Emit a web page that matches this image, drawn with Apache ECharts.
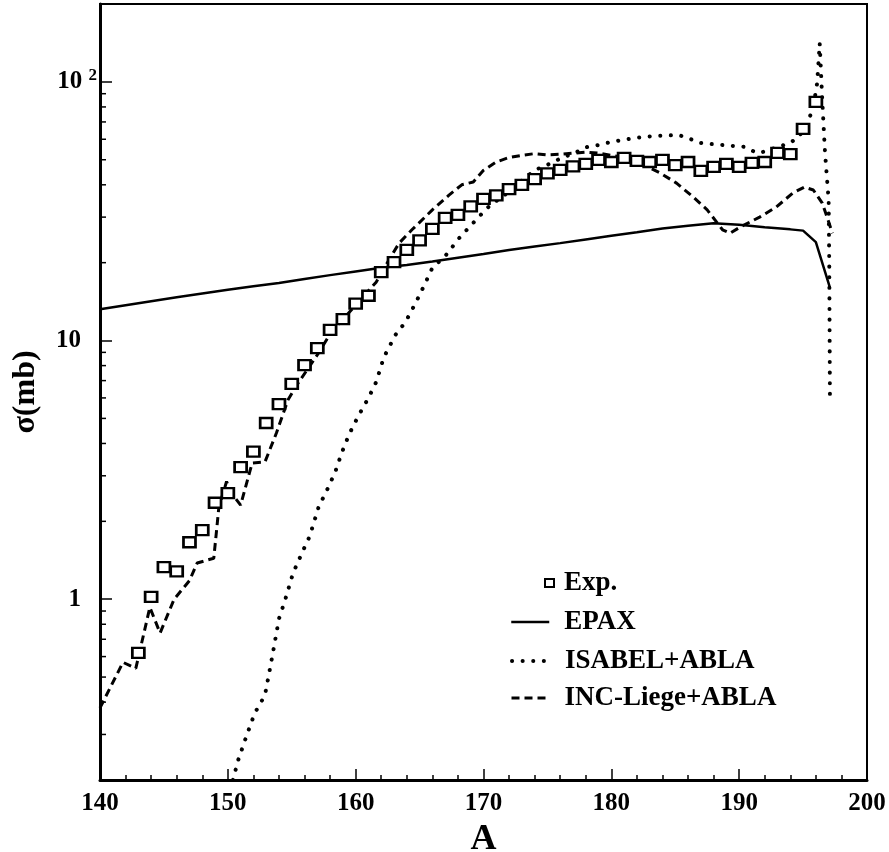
<!DOCTYPE html>
<html>
<head>
<meta charset="utf-8">
<script src="https://cdn.jsdelivr.net/npm/echarts@6/dist/echarts.min.js"></script>
<style>
html,body{margin:0;padding:0;background:#fff;}
#chart{width:889px;height:852px;}
</style>
</head>
<body>
<div id="chart"></div>
<script>
// ---- data ----
const expA = [143,144,145,146,147,148,149,150,151,152,153,154,155,156,157,158,159,160,161,162,163,164,165,166,167,168,169,170,171,172,173,174,175,176,177,178,179,180,181,182,183,184,185,186,187,188,189,190,191,192,193,194,195,196];
const expSigma = [0.62,1.02,1.33,1.28,1.66,1.85,2.36,2.57,3.24,3.72,4.8,5.68,6.8,8.04,9.35,11.0,12.1,13.9,14.9,18.4,20.1,22.4,24.4,27.0,29.8,30.6,33.0,35.3,36.4,38.5,40.0,42.1,44.3,45.7,47.1,48.2,49.9,49.0,50.8,49.5,49.0,49.9,47.7,49.0,45.3,46.9,48.2,46.9,48.6,49.0,53.1,52.6,65.8,83.7];

const epaxA = [140,142,144,146,148,150,152,154,156,158,160,162,164,166,168,170,172,174,176,178,180,182,184,186,188,190,192,194,195,196,197.1];
const epaxSigma = [13.2,13.7,14.2,14.7,15.2,15.7,16.2,16.7,17.3,17.9,18.5,19.1,19.6,20.2,20.9,21.6,22.4,23.1,23.8,24.6,25.4,26.2,27.1,27.8,28.4,28.0,27.4,26.9,26.6,24.0,16.0];

const isabelA = [150.4,150.8,151.5,152.1,152.9,153.3,153.6,154.0,154.5,155.1,155.8,156.4,157.1,157.8,158.4,158.9,159.5,160.2,161.0,161.6,162.2,163.1,163.9,164.7,165.3,166.0,167.0,168.1,169.2,170.3,171.3,172.3,173.2,174.2,175.0,176.0,177.3,178.1,179.0,180.0,181.0,182.0,183.4,184.3,185.2,186.0,186.9,187.8,188.7,189.6,190.4,191.4,192.2,193.0,193.8,194.6,195.3,195.8,196.1,196.3,196.5,196.7,196.8,197.0,197.05,197.1];
const isabelSigma = [0.2,0.238,0.30,0.362,0.425,0.54,0.65,0.84,1.0,1.26,1.51,1.75,2.27,2.67,3.10,3.67,4.35,5.1,6.0,6.9,8.6,10.5,11.8,14.0,16.1,19.1,21.2,24.9,28.5,32.6,35.5,38.5,42.5,46.0,47.8,50.5,53.6,56.0,57.0,58.6,59.8,60.8,61.8,62.0,62.4,60.7,58.1,57.5,57.0,56.5,56.1,53.1,54.0,56.1,57.5,60.7,68.2,80,99,141,85,55,46.9,35,19,6.15];

const incA = [140,141.8,142.8,143.9,144.7,145.8,147.0,147.6,148.9,149.3,149.9,150.2,151.0,151.9,152.9,153.8,154.7,155.5,157.1,158.1,160.0,161.6,162.6,163.4,164.4,166.0,167.3,168.3,169.2,170.0,171.0,172.0,173.0,174.0,175.0,176.0,177.0,178.0,179.0,180.0,181.0,182.2,183.8,185.1,186.4,187.5,188.7,189.3,190.1,191.6,192.9,194.2,195.1,195.8,196.5,197.3];
const incSigma = [0.38,0.57,0.54,0.93,0.74,1.0,1.18,1.38,1.44,2.27,2.85,2.6,2.31,3.36,3.39,4.39,5.89,6.85,8.95,10.8,13.7,16.8,20.5,23.8,26.8,32,36.5,40,41,45.5,49,51,52,52.8,52.2,52.5,53,53.5,53,52,51,48.6,44.5,40.6,35.9,32,26.8,26,27.5,30,32.8,37.2,39.2,38.2,34,26];

const yMinorTicks = [0.3,0.4,0.5,0.6,0.7,0.8,0.9,2,3,4,5,6,7,8,9,20,30,40,50,60,70,80,90];

const seriesNames = ['Exp.','EPAX','ISABEL+ABLA','INC-Liege+ABLA'];

// ---- chart ----
const FONT = "'Liberation Serif','Times New Roman',serif";
const pair = (xs, ys) => xs.map((x, i) => [x, ys[i]]);

const chart = echarts.init(document.getElementById('chart'), null, {renderer: 'canvas'});

const legendText = (pad) => ({fontFamily: FONT, fontWeight: 'bold', fontSize: 27, color: '#000', lineHeight: 30, padding: [0,0,0,pad]});
const lineLegend = (name, top, ls) => ({
  orient: 'vertical', left: 510, top: top, padding: 0, itemWidth: 38, itemHeight: 14, selectedMode: false,
  itemStyle: {opacity: 0}, lineStyle: ls, data: [name], textStyle: legendText(10)
});

const option = {
  backgroundColor: '#fff',
  animation: false,
  color: ['#000'],
  grid: {left: 100, right: 22, top: 4, bottom: 72, show: true, borderColor: '#000', borderWidth: 2,
         backgroundColor: 'transparent', containLabel: false, outerBoundsMode: 'none'},
  xAxis: {
    type: 'value', min: 140, max: 200, interval: 10,
    name: 'A', nameLocation: 'middle', nameGap: 42,
    nameTextStyle: {fontFamily: FONT, fontWeight: 'bold', fontSize: 36, color: '#000'},
    axisLine: {onZero: false, lineStyle: {color: '#000', width: 3}},
    axisTick: {inside: true, length: 11, lineStyle: {color: '#000', width: 1.5}},
    minorTick: {show: true, splitNumber: 5, length: 5, lineStyle: {color: '#000', width: 1.5}},
    splitLine: {show: false},
    axisLabel: {fontFamily: FONT, fontWeight: 'bold', fontSize: 25, color: '#000', margin: 11}
  },
  yAxis: {
    type: 'log', logBase: 10, min: 0.2, max: 200,
    name: 'σ(mb)', nameLocation: 'middle', nameGap: 58, nameRotate: 90,
    nameTextStyle: {fontFamily: FONT, fontWeight: 'bold', fontSize: 32, color: '#000'},
    axisLine: {onZero: false, lineStyle: {color: '#000', width: 3}},
    axisTick: {inside: true, length: 12, lineStyle: {color: '#000', width: 1.5}},
    splitLine: {show: false},
    axisLabel: {
      margin: 3,
      fontFamily: FONT, fontWeight: 'bold', fontSize: 25, color: '#000',
      formatter: function (v) {
        if (Math.abs(v - 100) < 1e-6) return '{n|10} {s|2}';
        if (Math.abs(v - 10) < 1e-6) return '{m|10}';
        if (Math.abs(v - 1) < 1e-6) return '{m|1}';
        return '';
      },
      rich: {
        n: {fontFamily: FONT, fontWeight: 'bold', fontSize: 25, color: '#000', lineHeight: 30},
        m: {fontFamily: FONT, fontWeight: 'bold', fontSize: 25, color: '#000', padding: [0,16,0,0]},
        s: {fontFamily: FONT, fontWeight: 'bold', fontSize: 17, color: '#000', verticalAlign: 'top'}
      }
    }
  },
  legend: [
    {orient: 'vertical', left: 544, top: 568, padding: 0, itemWidth: 9, itemHeight: 8, selectedMode: false,
     itemStyle: {borderWidth: 2}, data: [seriesNames[0]], textStyle: legendText(5)},
    lineLegend(seriesNames[1], 607, {color: '#000', width: 2.5}),
    lineLegend(seriesNames[2], 646, {color: '#000', width: 4, type: [0.1, 10.5], cap: 'round'}),
    lineLegend(seriesNames[3], 683, {color: '#000', width: 3, type: [8, 5]})
  ],
  series: [
    {
      name: seriesNames[1], type: 'line', data: pair(epaxA, epaxSigma), symbol: 'none',
      itemStyle: {color: '#000'}, lineStyle: {color: '#000', width: 2.5}, z: 3
    },
    {
      name: seriesNames[2], type: 'line', data: pair(isabelA, isabelSigma), symbol: 'none',
      itemStyle: {color: '#000'}, lineStyle: {color: '#000', width: 4, type: [0.1, 10.5], cap: 'round'}, z: 3
    },
    {
      name: seriesNames[3], type: 'line', data: pair(incA, incSigma), symbol: 'none',
      itemStyle: {color: '#000'}, lineStyle: {color: '#000', width: 3, type: [8, 5]}, z: 3
    },
    {
      name: seriesNames[0], type: 'scatter', data: pair(expA, expSigma), symbol: 'rect', symbolSize: [12, 10],
      itemStyle: {color: '#fff', borderColor: '#000', borderWidth: 2.5, opacity: 1}, z: 5
    },
    {
      type: 'custom', silent: true, z: 6, clip: false,
      data: yMinorTicks.map(v => [140, v]),
      renderItem: function (params, api) {
        const p = api.coord([api.value(0), api.value(1)]);
        return {type: 'line', shape: {x1: p[0], y1: p[1], x2: p[0] + 6, y2: p[1]}, style: {stroke: '#000', lineWidth: 1.5}};
      }
    }
  ]
};
chart.setOption(option);
</script>
</body>
</html>
